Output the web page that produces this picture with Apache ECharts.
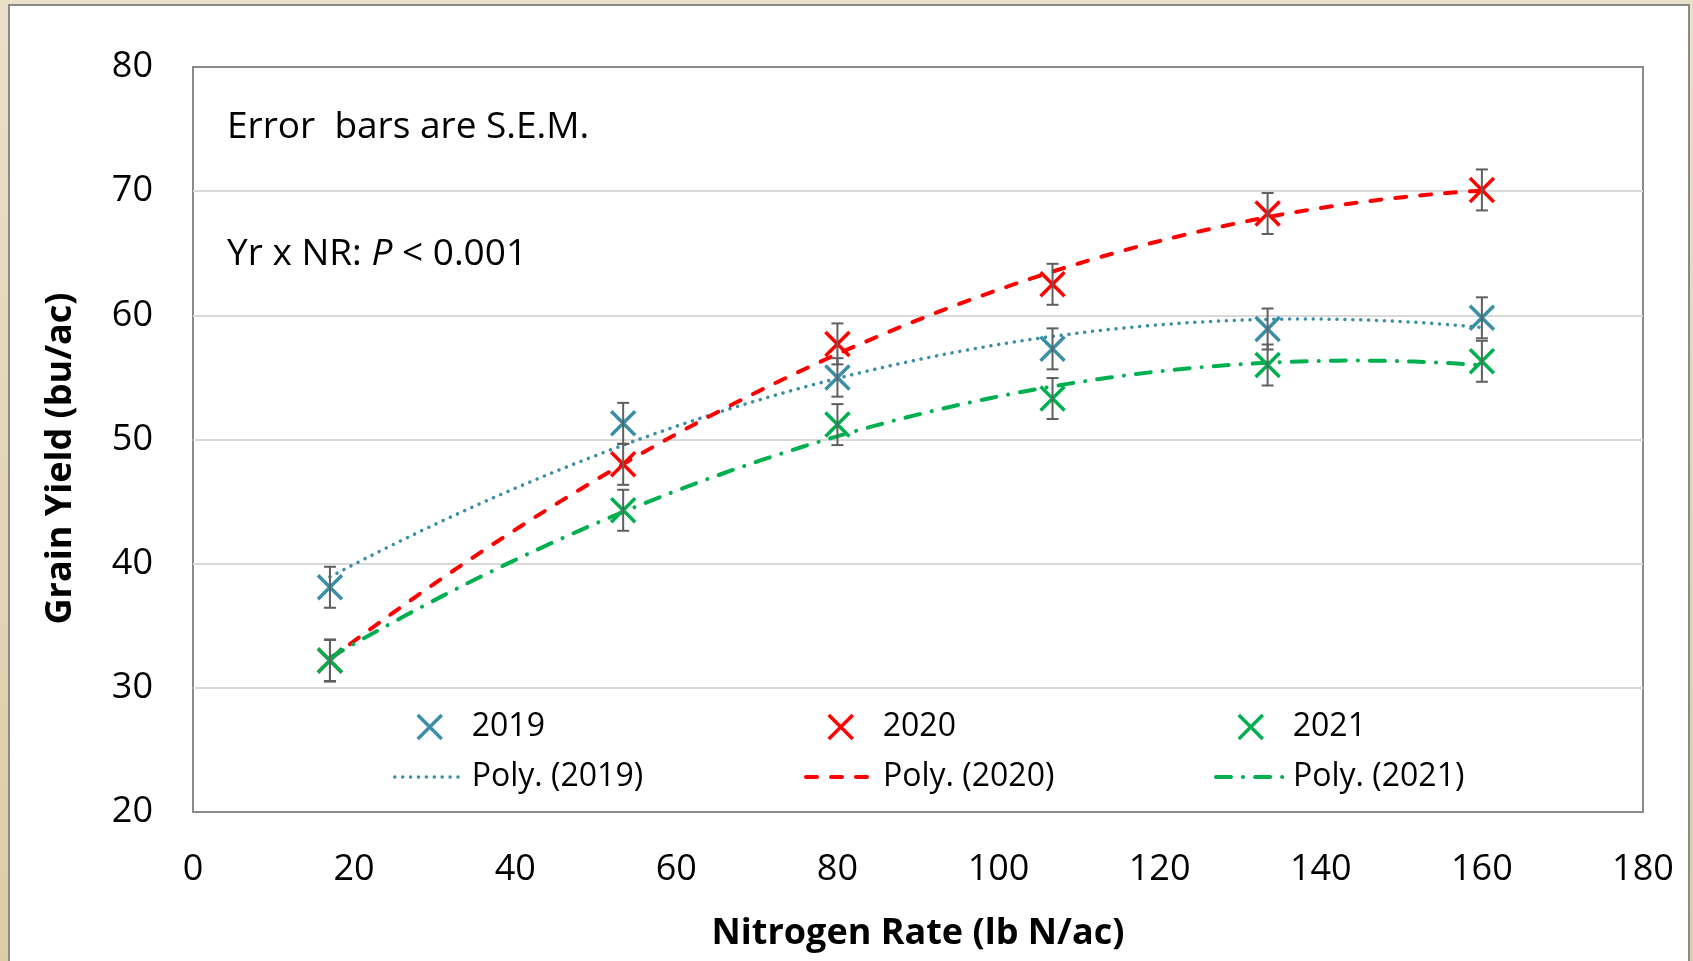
<!DOCTYPE html>
<html>
<head>
<meta charset="utf-8">
<title>Grain Yield vs Nitrogen Rate</title>
<script src="https://cdn.jsdelivr.net/npm/echarts@6/dist/echarts.min.js"></script>
<style>
  html, body { margin: 0; padding: 0; width: 1693px; height: 961px; overflow: hidden; }
  body { background: linear-gradient(180deg, #e9e0c9 0%, #dccda6 100%); position: relative; }
  #frame { position: absolute; left: 8px; top: 4px; width: 1682px; height: 980px;
           background: #ffffff; border: 2px solid #8a8a8a; box-sizing: border-box; }
  #chart { position: absolute; left: 0; top: 0; width: 1693px; height: 961px; }
</style>
</head>
<body>
<div id="frame"></div>
<div id="chart"></div>
<script>
// Nitrogen rates (lb N/ac) and mean grain yields (bu/ac) per year
const rates = [17, 53.4, 80, 106.7, 133.4, 160];
const years = ['2019', '2020', '2021'];
const yield2019 = [38.1, 51.3, 55.0, 57.3, 58.9, 59.8];
const yield2020 = [32.2, 48.0, 57.7, 62.5, 68.2, 70.1];
const yield2021 = [32.2, 44.3, 51.2, 53.3, 56.0, 56.3];
// Standard error of the mean for each point
const sem2019 = [1.65, 1.65, 1.55, 1.65, 1.65, 1.65];
const sem2020 = [1.65, 1.65, 1.65, 1.65, 1.65, 1.65];
const sem2021 = [1.70, 1.65, 1.65, 1.65, 1.65, 1.65];
// Axis ticks
const xTicks = { min: 0, max: 180, step: 20 };
const yTicks = { min: 20, max: 80, step: 10 };

const yieldsByYear = [yield2019, yield2020, yield2021];
const semByYear = [sem2019, sem2020, sem2021];
const colors = ['#3a8fa7', '#ff0000', '#00b050'];
const trendDash = [[0.1, 7.8], [11, 14], [15, 12, 0.1, 12]];
const trendWidth = [3.5, 4, 4];
const FONT = '"Open Sans", Lato, sans-serif';
const XMARK = 'path://M0,0L24,24M24,0L0,24';

// Least-squares quadratic (2nd order polynomial) trend of y on x
function polyFit2(xs, ys) {
  let n = xs.length, sx = 0, sx2 = 0, sx3 = 0, sx4 = 0, sy = 0, sxy = 0, sx2y = 0;
  for (let i = 0; i < n; i++) {
    const x = xs[i], y = ys[i], x2 = x * x;
    sx += x; sx2 += x2; sx3 += x2 * x; sx4 += x2 * x2;
    sy += y; sxy += x * y; sx2y += x2 * y;
  }
  const A = [[n, sx, sx2, sy], [sx, sx2, sx3, sxy], [sx2, sx3, sx4, sx2y]];
  for (let c = 0; c < 3; c++) {
    for (let r = c + 1; r < 3; r++) {
      const f = A[r][c] / A[c][c];
      for (let k = c; k < 4; k++) A[r][k] -= f * A[c][k];
    }
  }
  const coef = [0, 0, 0];
  for (let r = 2; r >= 0; r--) {
    let s = A[r][3];
    for (let k = r + 1; k < 3; k++) s -= A[r][k] * coef[k];
    coef[r] = s / A[r][r];
  }
  return x => coef[0] + coef[1] * x + coef[2] * x * x;
}

function trendPoints(xs, ys) {
  const f = polyFit2(xs, ys);
  const lo = Math.min(...xs), hi = Math.max(...xs), steps = 120, pts = [];
  for (let i = 0; i <= steps; i++) {
    const x = lo + (hi - lo) * i / steps;
    pts.push([x, f(x)]);
  }
  return pts;
}

const series = [];
years.forEach((yr, i) => {
  series.push({
    name: 'Poly. (' + yr + ')',
    type: 'line',
    data: trendPoints(rates, yieldsByYear[i]),
    symbol: 'none',
    showSymbol: false,
    smooth: false,
    silent: true,
    z: 3,
    lineStyle: { color: colors[i], width: trendWidth[i], type: trendDash[i], cap: 'round' },
    itemStyle: { color: colors[i] }
  });
});
years.forEach((yr, i) => {
  series.push({
    name: yr,
    type: 'scatter',
    data: rates.map((x, j) => [x, yieldsByYear[i][j]]),
    symbol: XMARK,
    symbolSize: 24,
    silent: true,
    z: 4,
    itemStyle: { color: colors[i], borderColor: colors[i], borderWidth: 3.5, opacity: 1 }
  });
});
// Vertical error bars (mean ± SEM)
years.forEach((yr, i) => {
  series.push({
    type: 'custom',
    silent: true,
    z: 5,
    data: rates.map((x, j) => [x, yieldsByYear[i][j], semByYear[i][j]]),
    encode: { x: 0, y: 1 },
    renderItem: function (params, api) {
      const x = api.value(0), y = api.value(1), e = api.value(2);
      const top = api.coord([x, y + e]);
      const bot = api.coord([x, y - e]);
      const hw = 6;
      const st = { stroke: '#5f5f5f', lineWidth: 2 };
      return {
        type: 'group',
        children: [
          { type: 'line', shape: { x1: top[0], y1: top[1], x2: bot[0], y2: bot[1] }, style: st },
          { type: 'line', shape: { x1: top[0] - hw, y1: top[1], x2: top[0] + hw, y2: top[1] }, style: st },
          { type: 'line', shape: { x1: bot[0] - hw, y1: bot[1], x2: bot[0] + hw, y2: bot[1] }, style: st }
        ]
      };
    }
  });
});

// Legend: one small legend per entry, laid out in two rows of three columns
const colOffset = [0, 411, 821];
const legends = [];
years.forEach((yr, i) => {
  legends.push({
    data: [{ name: yr, icon: XMARK }],
    left: 416 + colOffset[i], top: 711,
    padding: 0,
    itemWidth: 24, itemHeight: 24,
    selectedMode: false,
    itemStyle: { borderWidth: 3.5, borderColor: colors[i], color: colors[i] },
    textStyle: { fontFamily: FONT, fontSize: 32, color: '#000', padding: [0, 0, 0, 25] }
  });
  legends.push({
    data: ['Poly. (' + yr + ')'],
    left: 393 + colOffset[i], top: 761,
    padding: 0,
    itemWidth: 69, itemHeight: 14,
    selectedMode: false,
    itemStyle: { color: 'rgba(0,0,0,0)', borderWidth: 0, opacity: 0 },
    lineStyle: { color: colors[i], width: trendWidth[i], type: trendDash[i], cap: 'round' },
    textStyle: { fontFamily: FONT, fontSize: 32, color: '#000', padding: [0, 0, 0, 3] }
  });
});

const chart = echarts.init(document.getElementById('chart'), null, { renderer: 'canvas' });
chart.setOption({
  animation: false,
  backgroundColor: 'transparent',
  textStyle: { fontFamily: FONT },
  grid: {
    left: 193, top: 67, width: 1450, height: 745,
    show: true, borderColor: '#8a8a8a', borderWidth: 2, backgroundColor: 'transparent'
  },
  xAxis: {
    type: 'value',
    min: xTicks.min, max: xTicks.max, interval: xTicks.step,
    name: 'Nitrogen Rate (lb N/ac)',
    nameLocation: 'middle', nameGap: 104,
    nameTextStyle: { fontFamily: FONT, fontSize: 36, fontWeight: 'bold', color: '#000' },
    axisLine: { show: false },
    axisTick: { show: false },
    splitLine: { show: false },
    axisLabel: { fontFamily: FONT, fontSize: 36, color: '#000', margin: 40 }
  },
  yAxis: {
    type: 'value',
    min: yTicks.min, max: yTicks.max, interval: yTicks.step,
    name: 'Grain Yield (bu/ac)',
    nameLocation: 'middle', nameGap: 114,
    nameTextStyle: { fontFamily: FONT, fontSize: 36, fontWeight: 'bold', color: '#000',
                     padding: [0, 38, 0, 0] },
    axisLine: { show: false },
    axisTick: { show: false },
    splitLine: { show: true, showMinLine: false, showMaxLine: false,
                 lineStyle: { color: '#d9d9d9', width: 2 } },
    axisLabel: { fontFamily: FONT, fontSize: 36, color: '#000', margin: 40, padding: [5, 0, 0, 0] }
  },
  legend: legends,
  graphic: [
    {
      type: 'text', left: 227, top: 109, silent: true,
      style: { text: 'Error  bars are S.E.M.', font: '37px ' + FONT, fill: '#000' }
    },
    {
      type: 'text', left: 227, top: 236, silent: true,
      style: {
        text: 'Yr x NR: {i|P} < 0.001',
        font: '37px ' + FONT, fill: '#000',
        rich: { i: { fontStyle: 'italic', fontSize: 37, fontFamily: FONT, fill: '#000' } }
      }
    }
  ],
  series: series
});
</script>
</body>
</html>
